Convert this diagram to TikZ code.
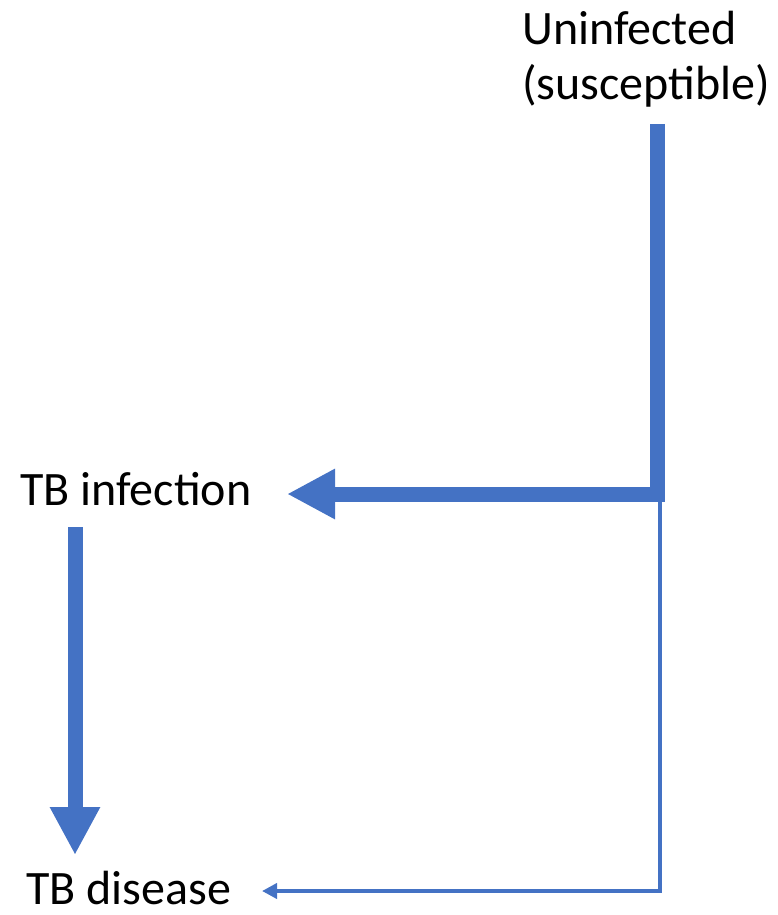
\documentclass[tikz,border=0pt]{standalone}
\usepackage{fontspec}
\setmainfont{Carlito}
\usetikzlibrary{arrows.meta}

\begin{document}
\begin{tikzpicture}[x=1pt,y=-1pt]
\tikzset{
  statelabel/.style={inner sep=0pt,font=\fontsize{48}{55}\selectfont,text=black},
  flowedge/.style={draw=flowblue,line join=miter,line cap=butt},
  thickflow/.style={flowedge,line width=15pt,-{Triangle[length=48pt,width=47pt]}},
  thinflow/.style={flowedge,line width=4pt,-{Triangle[length=15pt,width=15pt]}}
}
\definecolor{flowblue}{RGB}{68,114,196}
\useasboundingbox (0,0) rectangle (777,915);
\node[statelabel,anchor=base west,align=left] (n_unin) at (522,100) {Uninfected\\(susceptible)};
\node[statelabel,anchor=base west] (n_inf) at (20,505) {TB infection};
\node[statelabel,anchor=base west] (n_dis) at (26,904) {TB disease};
\coordinate (c_top) at (657,124);
\coordinate (c_corner) at (660,494);
\coordinate (c_inf) at (287,494);
\coordinate (c_dis) at (262,891);
\coordinate (c_down) at (75,527);
\coordinate (c_downend) at (75,855);
\draw[thickflow] (c_top) |- (c_inf);
\draw[thinflow] (c_corner) |- (c_dis);
\draw[thickflow] (c_down) -- (c_downend);
\end{tikzpicture}
\end{document}
